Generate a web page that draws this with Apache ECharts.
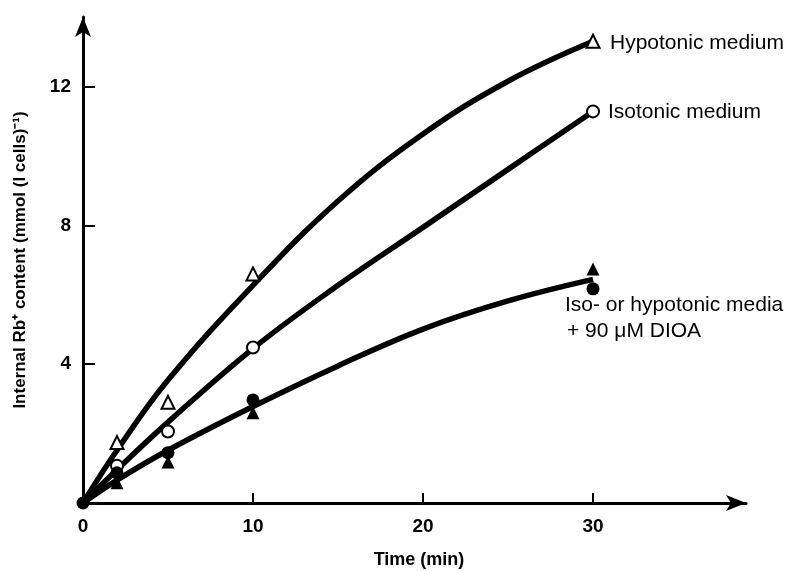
<!DOCTYPE html>
<html>
<head>
<meta charset="utf-8">
<script src="https://cdn.jsdelivr.net/npm/echarts@6/dist/echarts.min.js"></script>
<style>
  html, body { margin: 0; padding: 0; background: #fff; }
  #chart { width: 797px; height: 571px; }
</style>
</head>
<body>
<div id="chart"></div>
<script>
// observed points [time (min), Rb+ content]
const hypotonicPts = [[2, 1.74], [5, 2.9], [10, 6.6], [30, 13.3]];
const isotonicPts = [[2, 1.07], [5, 2.06], [10, 4.48], [30, 11.28]];
const dioaCirclePts = [[0, 0], [2, 0.87], [5, 1.45], [10, 2.97], [30, 6.17]];
const dioaTrianglePts = [[2, 0.58], [5, 1.18], [10, 2.6], [30, 6.74]];

// fitted curves
const curveTimes = [0, 2, 5, 10, 15, 20, 25, 30];
const hypotonicCurve = [0, 1.52, 3.54, 6.27, 8.7, 10.63, 12.15, 13.3];
const isotonicCurve = [0, 0.96, 2.33, 4.45, 6.27, 7.94, 9.61, 11.28];
const dioaCurve = [0, 0.66, 1.52, 2.78, 3.95, 5.01, 5.82, 6.44];

const xTicks = [0, 10, 20, 30];
const yTicks = [4, 8, 12];

const pair = (ys) => curveTimes.map((t, i) => [t, ys[i]]);

const chart = echarts.init(document.getElementById('chart'));

const curve = (name, ys) => ({
  name: name,
  type: 'line',
  data: pair(ys),
  smooth: 0.4,
  symbol: 'none',
  lineStyle: { color: '#000', width: 5.5 },
  z: 2
});

const marks = (data, symbol, open, size) => ({
  type: 'scatter',
  data: data,
  symbol: symbol,
  symbolSize: size,
  clip: false,
  itemStyle: open
    ? { color: '#fff', borderColor: '#000', borderWidth: 2, opacity: 1 }
    : { color: '#000', opacity: 1 },
  z: 3
});

const label = (text, x, y) => ({
  type: 'text', x: x, y: y,
  style: {
    text: text, fill: '#000', fontFamily: 'Liberation Sans',
    fontSize: 21, verticalAlign: 'middle'
  }
});

chart.setOption({
  animation: false,
  backgroundColor: '#fff',
  grid: { left: 83, right: 51, top: 17, bottom: 68 },
  xAxis: {
    type: 'value',
    min: 0,
    max: 39,
    splitLine: { show: false },
    axisLine: {
      lineStyle: { color: '#000', width: 3 },
      symbol: ['none', 'arrow'],
      symbolSize: [12, 20]
    },
    axisTick: {
      inside: true, length: 10,
      customValues: [10, 20, 30],
      lineStyle: { color: '#000', width: 2 }
    },
    axisLabel: {
      customValues: xTicks,
      margin: 14,
      color: '#000',
      fontFamily: 'Liberation Sans',
      fontWeight: 'bold',
      fontSize: 19
    }
  },
  yAxis: {
    type: 'value',
    min: 0,
    max: 14,
    name: 'Internal Rb⁺ content (mmol (l cells)⁻¹)',
    nameLocation: 'middle',
    nameGap: 54,
    nameRotate: 90,
    nameTextStyle: {
      color: '#000', fontFamily: 'Liberation Sans', fontWeight: 'bold', fontSize: 17
    },
    splitLine: { show: false },
    axisLine: {
      lineStyle: { color: '#000', width: 3 },
      symbol: ['none', 'arrow'],
      symbolSize: [12, 20]
    },
    axisTick: {
      inside: true, length: 12,
      customValues: yTicks,
      lineStyle: { color: '#000', width: 2 }
    },
    axisLabel: {
      customValues: yTicks,
      margin: 12,
      color: '#000',
      fontFamily: 'Liberation Sans',
      fontWeight: 'bold',
      fontSize: 19
    }
  },
  graphic: [
    {
      type: 'text', x: 419, y: 560,
      style: {
        text: 'Time (min)', fill: '#000', fontFamily: 'Liberation Sans',
        fontWeight: 'bold', fontSize: 18, align: 'center', verticalAlign: 'middle'
      }
    },
    label('Hypotonic medium', 610, 43),
    label('Isotonic medium', 608, 112),
    label('Iso- or hypotonic media', 565, 305),
    label('+ 90 μM DIOA', 567, 331)
  ],
  series: [
    curve('Hypotonic', hypotonicCurve),
    curve('Isotonic', isotonicCurve),
    curve('DIOA', dioaCurve),
    marks(hypotonicPts, 'triangle', true, 13),
    marks(isotonicPts, 'circle', true, 12),
    marks(dioaCirclePts, 'circle', false, 13),
    marks(dioaTrianglePts, 'triangle', false, 13)
  ]
});
</script>
</body>
</html>
